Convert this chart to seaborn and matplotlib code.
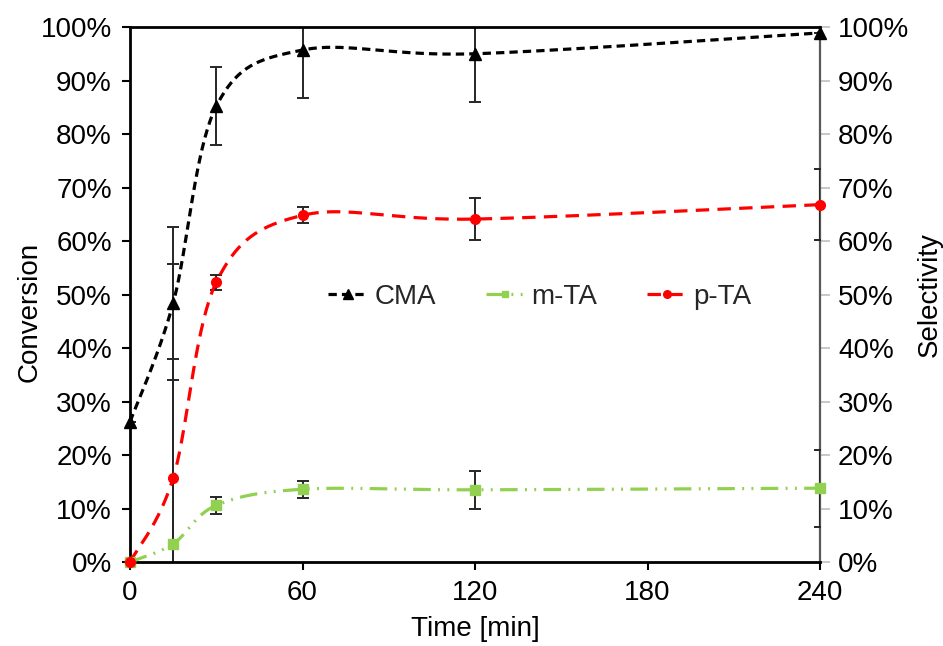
import numpy as np
import pandas as pd
import matplotlib
matplotlib.use("Agg")
import matplotlib.pyplot as plt
import seaborn as sns
from matplotlib.lines import Line2D
from matplotlib.ticker import PercentFormatter

# Reaction time points [min]
time_min = [0, 15, 30, 60, 120, 240]

# Conversion of CMA and selectivities (fractions)
cma = [0.262, 0.484, 0.852, 0.957, 0.950, 0.989]
m_ta = [0.000, 0.034, 0.106, 0.136, 0.135, 0.138]
p_ta = [0.000, 0.157, 0.523, 0.648, 0.641, 0.668]

# Error bar half-widths (fractions)
cma_err = [0.0, 0.143, 0.073, 0.090, 0.090, 0.0]
m_ta_err = [0.0, 0.345, 0.016, 0.016, 0.035, 0.072]
p_ta_err = [0.0, 0.400, 0.014, 0.015, 0.039, 0.066]

series_names = ["CMA", "m-TA", "p-TA"]
x_ticks = [0, 60, 120, 180, 240]

FS = 20

sns.set_theme(style="white")
plt.rcParams["font.family"] = ["Liberation Sans", "DejaVu Sans"]
plt.rcParams["font.size"] = FS

fig = plt.figure(figsize=(9.43, 6.46), dpi=100)
ax = fig.add_axes([0.1379, 0.1300, 0.7317, 0.8282])

AX_W_PX, AX_H_PX = 690.0, 535.0


def smooth_curve(xs, ys, n=40):
    """Parametric Catmull-Rom (Bezier) smoothing through the points, in display-like units."""
    sx, sy = AX_W_PX / 240.0, AX_H_PX
    P = np.column_stack([np.asarray(xs, float) * sx, np.asarray(ys, float) * sy])
    out = [P[0]]
    t = np.linspace(0, 1, n)[1:, None]
    for i in range(len(P) - 1):
        p0 = P[i - 1] if i > 0 else P[i]
        p1, p2 = P[i], P[i + 1]
        p3 = P[i + 2] if i + 2 < len(P) else P[i + 1]
        c1 = p1 + (p2 - p0) / 6.0
        c2 = p2 - (p3 - p1) / 6.0
        seg = (1 - t) ** 3 * p1 + 3 * (1 - t) ** 2 * t * c1 + 3 * (1 - t) * t ** 2 * c2 + t ** 3 * p2
        out.extend(seg)
    out = np.array(out)
    return out[:, 0] / sx, out[:, 1] / sy


# Secondary axis for selectivity (drawn underneath the main axes)
ax2 = ax.twinx()
ax2.set_ylim(0, 1)
ax2.set_yticks(np.linspace(0, 1, 11))
ax2.yaxis.set_major_formatter(PercentFormatter(1.0, decimals=0))
ax2.tick_params(axis="y", direction="out", length=7, width=1.2, color="#BFBFBF",
                labelsize=FS, pad=6, right=True, labelcolor="black")
for side in ["left", "top", "bottom"]:
    ax2.spines[side].set_visible(False)
ax2.spines["right"].set_color("#595959")
ax2.spines["right"].set_linewidth(1.6)
ax2.set_ylabel("Selectivity", fontsize=FS, color="black")
ax2.yaxis.set_label_coords(1.140, 0.499)
ax2.grid(False)

ax.set_zorder(ax2.get_zorder() + 1)
ax.patch.set_visible(False)

styles = {
    "CMA": dict(color="black", marker="^", ls=(0, (2.6, 1.6)), ms=8),
    "m-TA": dict(color="#92D050", marker="s", ls=(0, (5.5, 2.3, 0.6, 2.3, 0.6, 2.3)), ms=6.5),
    "p-TA": dict(color="#FF0000", marker="o", ls=(0, (4.2, 2.6)), ms=7),
}
values = {"CMA": cma, "m-TA": m_ta, "p-TA": p_ta}
errors = {"CMA": cma_err, "m-TA": m_ta_err, "p-TA": p_ta_err}

LW = 2.3
handles = []
for name in series_names:
    st = styles[name]
    cx, cy = smooth_curve(time_min, values[name])
    curve = pd.DataFrame({"t": cx, "v": cy})
    sns.lineplot(data=curve, x="t", y="v", ax=ax, color=st["color"], linestyle=st["ls"],
                 lw=LW, sort=False, estimator=None, clip_on=False, zorder=3)
    ax.errorbar(time_min, values[name], yerr=errors[name], fmt="none", ecolor="#262626",
                elinewidth=1.4, capsize=4, capthick=1.4, zorder=2)
    ax.plot(time_min, values[name], ls="none", marker=st["marker"], ms=st["ms"],
            color=st["color"], mec=st["color"], clip_on=False, zorder=5)
    handles.append(Line2D([], [], color=st["color"], linestyle=st["ls"], lw=LW,
                          marker=st["marker"], ms=st["ms"] - 1.5))

ax.set_xlim(0, 240)
ax.set_ylim(0, 1)
ax.set_xticks(x_ticks)
ax.set_yticks(np.linspace(0, 1, 11))
ax.yaxis.set_major_formatter(PercentFormatter(1.0, decimals=0))
ax.tick_params(axis="both", which="major", direction="out", length=6, width=1.5,
               color="black", labelsize=FS, pad=7, bottom=True, left=True,
               labelcolor="black")
ax.grid(False)

for side in ["left", "top", "bottom"]:
    ax.spines[side].set_color("black")
    ax.spines[side].set_linewidth(2.0)
ax.spines["right"].set_visible(False)

ax.set_xlabel("Time [min]", fontsize=FS, color="black")
ax.set_ylabel("Conversion", fontsize=FS, color="black")
ax.xaxis.set_label_coords(0.5, -0.100)
ax.yaxis.set_label_coords(-0.127, 0.467)

ax.legend(handles, series_names, loc="center", bbox_to_anchor=(0.594, 0.495), ncol=3,
          frameon=False, handlelength=1.4, handletextpad=0.25, columnspacing=1.8,
          fontsize=FS)

fig.savefig("out.png", dpi=100)
